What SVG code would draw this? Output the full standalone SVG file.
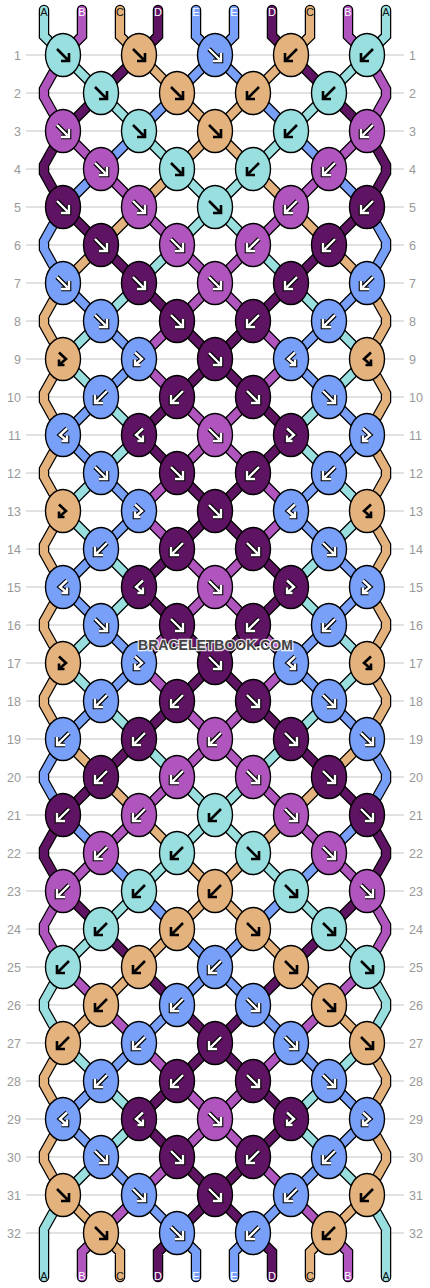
<svg xmlns="http://www.w3.org/2000/svg" xmlns:xlink="http://www.w3.org/1999/xlink" width="430" height="1288" viewBox="0 0 430 1288">
<style>
text{font-family:"Liberation Sans",Arial,sans-serif}
.num{font-size:12.5px;fill:#999}
.nl{text-anchor:end}
.lbl{font-size:11px;text-anchor:middle}
.lk{fill:#111}.lw{fill:#fff}
.rows{stroke:#c4c4c4;stroke-width:1;fill:none}
.ol{fill:none;stroke:#000;stroke-width:10.5;stroke-linejoin:miter;stroke-linecap:round}
.st{fill:none;stroke-width:8;stroke-linejoin:miter;stroke-linecap:round}
.cA{stroke:#99dfdf}.cB{stroke:#b055be}.cC{stroke:#e4b27d}.cD{stroke:#5e1462}.cE{stroke:#78a0f8}
ellipse{stroke:#000;stroke-width:1.4}
.A ellipse{fill:#99dfdf}.B ellipse{fill:#b055be}.C ellipse{fill:#e4b27d}.D ellipse{fill:#5e1462}.E ellipse{fill:#78a0f8}
.ak{fill:none;stroke:#000;stroke-width:2.6}
.ao{fill:none;stroke:#000;stroke-width:4.6}
.aw{fill:none;stroke:#fff;stroke-width:2.4}
.wm{font-size:14px;font-weight:bold;fill:#444;stroke:#fff;stroke-width:2.5;stroke-opacity:.85;paint-order:stroke;text-anchor:middle}
</style>
<defs>
<path id="pF" d="M-6-6L4.5 4.5M6-2V6H-2"/>
<path id="pB" d="M6-6L-4.5 4.5M-6-2V6H2"/>
<path id="pFB" d="M-4-6.5L3 0L-3 5M-4 0.5V6H1.5"/>
<path id="pBF" d="M4-6.5L-3 0L3 5M4 0.5V6H-1.5"/>
<g id="wF"><use href="#pF" class="ao"/><use href="#pF" class="aw"/></g>
<g id="wB"><use href="#pB" class="ao"/><use href="#pB" class="aw"/></g>
<g id="wFB"><use href="#pFB" class="ao"/><use href="#pFB" class="aw"/></g>
<g id="wBF"><use href="#pBF" class="ao"/><use href="#pBF" class="aw"/></g>
<path id="sA" d="M44 10V36L63 55M386 10V36L367 55M63 55l38 38M367 55l-38 38M101 93l38 38M329 93l-38 38M139 131l38 38M291 131l-38 38M177 169l38 38M253 169l-38 38M215 207l-38 38M215 207l38 38M177 245l-38 38M253 245l38 38M139 283l-38 38M291 283l38 38M101 321l-38 38M329 321l38 38M63 359l38 38M367 359l-38 38M101 397l38 38M329 397l-38 38M139 435l-38 38M291 435l38 38M101 473l-38 38M329 473l38 38M63 511l38 38M367 511l-38 38M101 549l38 38M329 549l-38 38M139 587l-38 38M291 587l38 38M101 625l-38 38M329 625l38 38M63 663l38 38M367 663l-38 38M101 701l38 38M329 701l-38 38M139 739l38 38M291 739l-38 38M177 777l38 38M253 777l-38 38M215 815l-38 38M215 815l38 38M177 853l-38 38M253 853l38 38M139 891l-38 38M291 891l38 38M101 929l-38 38M329 929l38 38M63 967l-19 34v8l19 34M367 967l19 34v8l-19 34M63 1043l38 38M367 1043l-38 38M101 1081l38 38M329 1081l-38 38M139 1119l-38 38M291 1119l38 38M101 1157l-38 38M329 1157l38 38M63 1195L44 1229V1277M367 1195L386 1229V1277"/>
<path id="sB" d="M82 10V36L63 55M348 10V36L367 55M63 55l-19 34v8l19 34M367 55l19 34v8l-19 34M63 131l38 38M367 131l-38 38M101 169l38 38M329 169l-38 38M139 207l38 38M291 207l-38 38M177 245l38 38M253 245l-38 38M215 283l-38 38M215 283l38 38M177 321l-38 38M253 321l38 38M139 359l38 38M291 359l-38 38M177 397l38 38M253 397l-38 38M215 435l-38 38M215 435l38 38M177 473l-38 38M253 473l38 38M139 511l38 38M291 511l-38 38M177 549l38 38M253 549l-38 38M215 587l-38 38M215 587l38 38M177 625l-38 38M253 625l38 38M139 663l38 38M291 663l-38 38M177 701l38 38M253 701l-38 38M215 739l-38 38M215 739l38 38M177 777l-38 38M253 777l38 38M139 815l-38 38M291 815l38 38M101 853l-38 38M329 853l38 38M63 891l-19 34v8l19 34M367 891l19 34v8l-19 34M63 967l38 38M367 967l-38 38M101 1005l38 38M329 1005l-38 38M139 1043l38 38M291 1043l-38 38M177 1081l38 38M253 1081l-38 38M215 1119l-38 38M215 1119l38 38M177 1157l-38 38M253 1157l38 38M139 1195l-38 38M291 1195l38 38M101 1233L82 1252V1277M329 1233L348 1252V1277"/>
<path id="sC" d="M120 10V36L139 55M310 10V36L291 55M139 55l38 38M291 55l-38 38M177 93l38 38M253 93l-38 38M215 131l-38 38M215 131l38 38M177 169l-38 38M253 169l38 38M139 207l-38 38M291 207l38 38M101 245l-38 38M329 245l38 38M63 283l-19 34v8l19 34l-19 34v8l19 34l-19 34v8l19 34l-19 34v8l19 34l-19 34v8l19 34l-19 34v8l19 34M367 283l19 34v8l-19 34l19 34v8l-19 34l19 34v8l-19 34l19 34v8l-19 34l19 34v8l-19 34l19 34v8l-19 34M63 739l38 38M367 739l-38 38M101 777l38 38M329 777l-38 38M139 815l38 38M291 815l-38 38M177 853l38 38M253 853l-38 38M215 891l-38 38M215 891l38 38M177 929l-38 38M253 929l38 38M139 967l-38 38M291 967l38 38M101 1005l-38 38M329 1005l38 38M63 1043l-19 34v8l19 34l-19 34v8l19 34M367 1043l19 34v8l-19 34l19 34v8l-19 34M63 1195l38 38M367 1195l-38 38M101 1233L120 1252V1277M329 1233L310 1252V1277"/>
<path id="sD" d="M158 10V36L139 55M272 10V36L291 55M139 55l-38 38M291 55l38 38M101 93l-38 38M329 93l38 38M63 131l-19 34v8l19 34M367 131l19 34v8l-19 34M63 207l38 38M367 207l-38 38M101 245l38 38M329 245l-38 38M139 283l38 38M291 283l-38 38M177 321l38 38M253 321l-38 38M215 359l-38 38M215 359l38 38M177 397l-38 38M253 397l38 38M139 435l38 38M291 435l-38 38M177 473l38 38M253 473l-38 38M215 511l-38 38M215 511l38 38M177 549l-38 38M253 549l38 38M139 587l38 38M291 587l-38 38M177 625l38 38M253 625l-38 38M215 663l-38 38M215 663l38 38M177 701l-38 38M253 701l38 38M139 739l-38 38M291 739l38 38M101 777l-38 38M329 777l38 38M63 815l-19 34v8l19 34M367 815l19 34v8l-19 34M63 891l38 38M367 891l-38 38M101 929l38 38M329 929l-38 38M139 967l38 38M291 967l-38 38M177 1005l38 38M253 1005l-38 38M215 1043l-38 38M215 1043l38 38M177 1081l-38 38M253 1081l38 38M139 1119l38 38M291 1119l-38 38M177 1157l38 38M253 1157l-38 38M215 1195l-38 38M215 1195l38 38M177 1233L158 1252V1277M253 1233L272 1252V1277"/>
<path id="sE" d="M196 10V36L215 55M234 10V36L215 55M215 55l-38 38M215 55l38 38M177 93l-38 38M253 93l38 38M139 131l-38 38M291 131l38 38M101 169l-38 38M329 169l38 38M63 207l-19 34v8l19 34M367 207l19 34v8l-19 34M63 283l38 38M367 283l-38 38M101 321l38 38M329 321l-38 38M139 359l-38 38M291 359l38 38M101 397l-38 38M329 397l38 38M63 435l38 38M367 435l-38 38M101 473l38 38M329 473l-38 38M139 511l-38 38M291 511l38 38M101 549l-38 38M329 549l38 38M63 587l38 38M367 587l-38 38M101 625l38 38M329 625l-38 38M139 663l-38 38M291 663l38 38M101 701l-38 38M329 701l38 38M63 739l-19 34v8l19 34M367 739l19 34v8l-19 34M63 815l38 38M367 815l-38 38M101 853l38 38M329 853l-38 38M139 891l38 38M291 891l-38 38M177 929l38 38M253 929l-38 38M215 967l-38 38M215 967l38 38M177 1005l-38 38M253 1005l38 38M139 1043l-38 38M291 1043l38 38M101 1081l-38 38M329 1081l38 38M63 1119l38 38M367 1119l-38 38M101 1157l38 38M329 1157l-38 38M139 1195l38 38M291 1195l-38 38M177 1233L196 1252V1277M253 1233L234 1252V1277"/>
</defs>
<rect width="430" height="1288" fill="#fff"/>
<path class="rows" d="M26 55H404M26 93H404M26 131H404M26 169H404M26 207H404M26 245H404M26 283H404M26 321H404M26 359H404M26 397H404M26 435H404M26 473H404M26 511H404M26 549H404M26 587H404M26 625H404M26 663H404M26 701H404M26 739H404M26 777H404M26 815H404M26 853H404M26 891H404M26 929H404M26 967H404M26 1005H404M26 1043H404M26 1081H404M26 1119H404M26 1157H404M26 1195H404M26 1233H404"/>
<g id="rownums" class="num">
<text class="nl" x="21" y="59.5">1</text><text class="nl" x="21" y="97.5">2</text><text class="nl" x="21" y="135.5">3</text><text class="nl" x="21" y="173.5">4</text><text class="nl" x="21" y="211.5">5</text><text class="nl" x="21" y="249.5">6</text><text class="nl" x="21" y="287.5">7</text><text class="nl" x="21" y="325.5">8</text><text class="nl" x="21" y="363.5">9</text><text class="nl" x="21" y="401.5">10</text><text class="nl" x="21" y="439.5">11</text><text class="nl" x="21" y="477.5">12</text><text class="nl" x="21" y="515.5">13</text><text class="nl" x="21" y="553.5">14</text><text class="nl" x="21" y="591.5">15</text><text class="nl" x="21" y="629.5">16</text><text class="nl" x="21" y="667.5">17</text><text class="nl" x="21" y="705.5">18</text><text class="nl" x="21" y="743.5">19</text><text class="nl" x="21" y="781.5">20</text><text class="nl" x="21" y="819.5">21</text><text class="nl" x="21" y="857.5">22</text><text class="nl" x="21" y="895.5">23</text><text class="nl" x="21" y="933.5">24</text><text class="nl" x="21" y="971.5">25</text><text class="nl" x="21" y="1009.5">26</text><text class="nl" x="21" y="1047.5">27</text><text class="nl" x="21" y="1085.5">28</text><text class="nl" x="21" y="1123.5">29</text><text class="nl" x="21" y="1161.5">30</text><text class="nl" x="21" y="1199.5">31</text><text class="nl" x="21" y="1237.5">32</text>
<text x="409" y="59.5">1</text><text x="409" y="97.5">2</text><text x="409" y="135.5">3</text><text x="409" y="173.5">4</text><text x="409" y="211.5">5</text><text x="409" y="249.5">6</text><text x="409" y="287.5">7</text><text x="409" y="325.5">8</text><text x="409" y="363.5">9</text><text x="409" y="401.5">10</text><text x="409" y="439.5">11</text><text x="409" y="477.5">12</text><text x="409" y="515.5">13</text><text x="409" y="553.5">14</text><text x="409" y="591.5">15</text><text x="409" y="629.5">16</text><text x="409" y="667.5">17</text><text x="409" y="705.5">18</text><text x="409" y="743.5">19</text><text x="409" y="781.5">20</text><text x="409" y="819.5">21</text><text x="409" y="857.5">22</text><text x="409" y="895.5">23</text><text x="409" y="933.5">24</text><text x="409" y="971.5">25</text><text x="409" y="1009.5">26</text><text x="409" y="1047.5">27</text><text x="409" y="1085.5">28</text><text x="409" y="1123.5">29</text><text x="409" y="1161.5">30</text><text x="409" y="1199.5">31</text><text x="409" y="1237.5">32</text>
</g>
<g id="connectors">
<use href="#sA" class="ol"/><use href="#sB" class="ol"/><use href="#sC" class="ol"/><use href="#sD" class="ol"/><use href="#sE" class="ol"/>
<use href="#sA" class="st cA"/><use href="#sB" class="st cB"/><use href="#sC" class="st cC"/><use href="#sD" class="st cD"/><use href="#sE" class="st cE"/>
</g>
<g id="labels" class="lbl">
<text class="lk" x="44" y="16">A</text><text class="lw" x="82" y="16">B</text><text class="lk" x="120" y="16">C</text><text class="lw" x="158" y="16">D</text><text class="lw" x="196" y="16">E</text><text class="lw" x="234" y="16">E</text><text class="lw" x="272" y="16">D</text><text class="lk" x="310" y="16">C</text><text class="lw" x="348" y="16">B</text><text class="lk" x="386" y="16">A</text>
<text class="lk" x="44" y="1280">A</text><text class="lw" x="82" y="1280">B</text><text class="lk" x="120" y="1280">C</text><text class="lw" x="158" y="1280">D</text><text class="lw" x="196" y="1280">E</text><text class="lw" x="234" y="1280">E</text><text class="lw" x="272" y="1280">D</text><text class="lk" x="310" y="1280">C</text><text class="lw" x="348" y="1280">B</text><text class="lk" x="386" y="1280">A</text>
</g>
<g id="knots">
<g id="k1-1" class="A" transform="translate(63 55)"><ellipse rx="17.5" ry="21.5"/><use href="#pF" class="ak"/></g>
<g id="k1-2" class="C" transform="translate(139 55)"><ellipse rx="17.5" ry="21.5"/><use href="#pF" class="ak"/></g>
<g id="k1-3" class="E" transform="translate(215 55)"><ellipse rx="17.5" ry="21.5"/><use href="#wF"/></g>
<g id="k1-4" class="C" transform="translate(291 55)"><ellipse rx="17.5" ry="21.5"/><use href="#pB" class="ak"/></g>
<g id="k1-5" class="A" transform="translate(367 55)"><ellipse rx="17.5" ry="21.5"/><use href="#pB" class="ak"/></g>
<g id="k2-1" class="A" transform="translate(101 93)"><ellipse rx="17.5" ry="21.5"/><use href="#pF" class="ak"/></g>
<g id="k2-2" class="C" transform="translate(177 93)"><ellipse rx="17.5" ry="21.5"/><use href="#pF" class="ak"/></g>
<g id="k2-3" class="C" transform="translate(253 93)"><ellipse rx="17.5" ry="21.5"/><use href="#pB" class="ak"/></g>
<g id="k2-4" class="A" transform="translate(329 93)"><ellipse rx="17.5" ry="21.5"/><use href="#pB" class="ak"/></g>
<g id="k3-1" class="B" transform="translate(63 131)"><ellipse rx="17.5" ry="21.5"/><use href="#wF"/></g>
<g id="k3-2" class="A" transform="translate(139 131)"><ellipse rx="17.5" ry="21.5"/><use href="#pF" class="ak"/></g>
<g id="k3-3" class="C" transform="translate(215 131)"><ellipse rx="17.5" ry="21.5"/><use href="#pF" class="ak"/></g>
<g id="k3-4" class="A" transform="translate(291 131)"><ellipse rx="17.5" ry="21.5"/><use href="#pB" class="ak"/></g>
<g id="k3-5" class="B" transform="translate(367 131)"><ellipse rx="17.5" ry="21.5"/><use href="#wB"/></g>
<g id="k4-1" class="B" transform="translate(101 169)"><ellipse rx="17.5" ry="21.5"/><use href="#wF"/></g>
<g id="k4-2" class="A" transform="translate(177 169)"><ellipse rx="17.5" ry="21.5"/><use href="#pF" class="ak"/></g>
<g id="k4-3" class="A" transform="translate(253 169)"><ellipse rx="17.5" ry="21.5"/><use href="#pB" class="ak"/></g>
<g id="k4-4" class="B" transform="translate(329 169)"><ellipse rx="17.5" ry="21.5"/><use href="#wB"/></g>
<g id="k5-1" class="D" transform="translate(63 207)"><ellipse rx="17.5" ry="21.5"/><use href="#wF"/></g>
<g id="k5-2" class="B" transform="translate(139 207)"><ellipse rx="17.5" ry="21.5"/><use href="#wF"/></g>
<g id="k5-3" class="A" transform="translate(215 207)"><ellipse rx="17.5" ry="21.5"/><use href="#pF" class="ak"/></g>
<g id="k5-4" class="B" transform="translate(291 207)"><ellipse rx="17.5" ry="21.5"/><use href="#wB"/></g>
<g id="k5-5" class="D" transform="translate(367 207)"><ellipse rx="17.5" ry="21.5"/><use href="#wB"/></g>
<g id="k6-1" class="D" transform="translate(101 245)"><ellipse rx="17.5" ry="21.5"/><use href="#wF"/></g>
<g id="k6-2" class="B" transform="translate(177 245)"><ellipse rx="17.5" ry="21.5"/><use href="#wF"/></g>
<g id="k6-3" class="B" transform="translate(253 245)"><ellipse rx="17.5" ry="21.5"/><use href="#wB"/></g>
<g id="k6-4" class="D" transform="translate(329 245)"><ellipse rx="17.5" ry="21.5"/><use href="#wB"/></g>
<g id="k7-1" class="E" transform="translate(63 283)"><ellipse rx="17.5" ry="21.5"/><use href="#wF"/></g>
<g id="k7-2" class="D" transform="translate(139 283)"><ellipse rx="17.5" ry="21.5"/><use href="#wF"/></g>
<g id="k7-3" class="B" transform="translate(215 283)"><ellipse rx="17.5" ry="21.5"/><use href="#wF"/></g>
<g id="k7-4" class="D" transform="translate(291 283)"><ellipse rx="17.5" ry="21.5"/><use href="#wB"/></g>
<g id="k7-5" class="E" transform="translate(367 283)"><ellipse rx="17.5" ry="21.5"/><use href="#wB"/></g>
<g id="k8-1" class="E" transform="translate(101 321)"><ellipse rx="17.5" ry="21.5"/><use href="#wF"/></g>
<g id="k8-2" class="D" transform="translate(177 321)"><ellipse rx="17.5" ry="21.5"/><use href="#wF"/></g>
<g id="k8-3" class="D" transform="translate(253 321)"><ellipse rx="17.5" ry="21.5"/><use href="#wB"/></g>
<g id="k8-4" class="E" transform="translate(329 321)"><ellipse rx="17.5" ry="21.5"/><use href="#wB"/></g>
<g id="k9-1" class="C" transform="translate(63 359)"><ellipse rx="17.5" ry="21.5"/><use href="#pFB" class="ak"/></g>
<g id="k9-2" class="E" transform="translate(139 359)"><ellipse rx="17.5" ry="21.5"/><use href="#wFB"/></g>
<g id="k9-3" class="D" transform="translate(215 359)"><ellipse rx="17.5" ry="21.5"/><use href="#wF"/></g>
<g id="k9-4" class="E" transform="translate(291 359)"><ellipse rx="17.5" ry="21.5"/><use href="#wBF"/></g>
<g id="k9-5" class="C" transform="translate(367 359)"><ellipse rx="17.5" ry="21.5"/><use href="#pBF" class="ak"/></g>
<g id="k10-1" class="E" transform="translate(101 397)"><ellipse rx="17.5" ry="21.5"/><use href="#wB"/></g>
<g id="k10-2" class="D" transform="translate(177 397)"><ellipse rx="17.5" ry="21.5"/><use href="#wB"/></g>
<g id="k10-3" class="D" transform="translate(253 397)"><ellipse rx="17.5" ry="21.5"/><use href="#wF"/></g>
<g id="k10-4" class="E" transform="translate(329 397)"><ellipse rx="17.5" ry="21.5"/><use href="#wF"/></g>
<g id="k11-1" class="E" transform="translate(63 435)"><ellipse rx="17.5" ry="21.5"/><use href="#wBF"/></g>
<g id="k11-2" class="D" transform="translate(139 435)"><ellipse rx="17.5" ry="21.5"/><use href="#wBF"/></g>
<g id="k11-3" class="B" transform="translate(215 435)"><ellipse rx="17.5" ry="21.5"/><use href="#wF"/></g>
<g id="k11-4" class="D" transform="translate(291 435)"><ellipse rx="17.5" ry="21.5"/><use href="#wFB"/></g>
<g id="k11-5" class="E" transform="translate(367 435)"><ellipse rx="17.5" ry="21.5"/><use href="#wFB"/></g>
<g id="k12-1" class="E" transform="translate(101 473)"><ellipse rx="17.5" ry="21.5"/><use href="#wF"/></g>
<g id="k12-2" class="D" transform="translate(177 473)"><ellipse rx="17.5" ry="21.5"/><use href="#wF"/></g>
<g id="k12-3" class="D" transform="translate(253 473)"><ellipse rx="17.5" ry="21.5"/><use href="#wB"/></g>
<g id="k12-4" class="E" transform="translate(329 473)"><ellipse rx="17.5" ry="21.5"/><use href="#wB"/></g>
<g id="k13-1" class="C" transform="translate(63 511)"><ellipse rx="17.5" ry="21.5"/><use href="#pFB" class="ak"/></g>
<g id="k13-2" class="E" transform="translate(139 511)"><ellipse rx="17.5" ry="21.5"/><use href="#wFB"/></g>
<g id="k13-3" class="D" transform="translate(215 511)"><ellipse rx="17.5" ry="21.5"/><use href="#wF"/></g>
<g id="k13-4" class="E" transform="translate(291 511)"><ellipse rx="17.5" ry="21.5"/><use href="#wBF"/></g>
<g id="k13-5" class="C" transform="translate(367 511)"><ellipse rx="17.5" ry="21.5"/><use href="#pBF" class="ak"/></g>
<g id="k14-1" class="E" transform="translate(101 549)"><ellipse rx="17.5" ry="21.5"/><use href="#wB"/></g>
<g id="k14-2" class="D" transform="translate(177 549)"><ellipse rx="17.5" ry="21.5"/><use href="#wB"/></g>
<g id="k14-3" class="D" transform="translate(253 549)"><ellipse rx="17.5" ry="21.5"/><use href="#wF"/></g>
<g id="k14-4" class="E" transform="translate(329 549)"><ellipse rx="17.5" ry="21.5"/><use href="#wF"/></g>
<g id="k15-1" class="E" transform="translate(63 587)"><ellipse rx="17.5" ry="21.5"/><use href="#wBF"/></g>
<g id="k15-2" class="D" transform="translate(139 587)"><ellipse rx="17.5" ry="21.5"/><use href="#wBF"/></g>
<g id="k15-3" class="B" transform="translate(215 587)"><ellipse rx="17.5" ry="21.5"/><use href="#wF"/></g>
<g id="k15-4" class="D" transform="translate(291 587)"><ellipse rx="17.5" ry="21.5"/><use href="#wFB"/></g>
<g id="k15-5" class="E" transform="translate(367 587)"><ellipse rx="17.5" ry="21.5"/><use href="#wFB"/></g>
<g id="k16-1" class="E" transform="translate(101 625)"><ellipse rx="17.5" ry="21.5"/><use href="#wF"/></g>
<g id="k16-2" class="D" transform="translate(177 625)"><ellipse rx="17.5" ry="21.5"/><use href="#wF"/></g>
<g id="k16-3" class="D" transform="translate(253 625)"><ellipse rx="17.5" ry="21.5"/><use href="#wB"/></g>
<g id="k16-4" class="E" transform="translate(329 625)"><ellipse rx="17.5" ry="21.5"/><use href="#wB"/></g>
<g id="k17-1" class="C" transform="translate(63 663)"><ellipse rx="17.5" ry="21.5"/><use href="#pFB" class="ak"/></g>
<g id="k17-2" class="E" transform="translate(139 663)"><ellipse rx="17.5" ry="21.5"/><use href="#wFB"/></g>
<g id="k17-3" class="D" transform="translate(215 663)"><ellipse rx="17.5" ry="21.5"/><use href="#wF"/></g>
<g id="k17-4" class="E" transform="translate(291 663)"><ellipse rx="17.5" ry="21.5"/><use href="#wBF"/></g>
<g id="k17-5" class="C" transform="translate(367 663)"><ellipse rx="17.5" ry="21.5"/><use href="#pBF" class="ak"/></g>
<g id="k18-1" class="E" transform="translate(101 701)"><ellipse rx="17.5" ry="21.5"/><use href="#wB"/></g>
<g id="k18-2" class="D" transform="translate(177 701)"><ellipse rx="17.5" ry="21.5"/><use href="#wB"/></g>
<g id="k18-3" class="D" transform="translate(253 701)"><ellipse rx="17.5" ry="21.5"/><use href="#wF"/></g>
<g id="k18-4" class="E" transform="translate(329 701)"><ellipse rx="17.5" ry="21.5"/><use href="#wF"/></g>
<g id="k19-1" class="E" transform="translate(63 739)"><ellipse rx="17.5" ry="21.5"/><use href="#wB"/></g>
<g id="k19-2" class="D" transform="translate(139 739)"><ellipse rx="17.5" ry="21.5"/><use href="#wB"/></g>
<g id="k19-3" class="B" transform="translate(215 739)"><ellipse rx="17.5" ry="21.5"/><use href="#wB"/></g>
<g id="k19-4" class="D" transform="translate(291 739)"><ellipse rx="17.5" ry="21.5"/><use href="#wF"/></g>
<g id="k19-5" class="E" transform="translate(367 739)"><ellipse rx="17.5" ry="21.5"/><use href="#wF"/></g>
<g id="k20-1" class="D" transform="translate(101 777)"><ellipse rx="17.5" ry="21.5"/><use href="#wB"/></g>
<g id="k20-2" class="B" transform="translate(177 777)"><ellipse rx="17.5" ry="21.5"/><use href="#wB"/></g>
<g id="k20-3" class="B" transform="translate(253 777)"><ellipse rx="17.5" ry="21.5"/><use href="#wF"/></g>
<g id="k20-4" class="D" transform="translate(329 777)"><ellipse rx="17.5" ry="21.5"/><use href="#wF"/></g>
<g id="k21-1" class="D" transform="translate(63 815)"><ellipse rx="17.5" ry="21.5"/><use href="#wB"/></g>
<g id="k21-2" class="B" transform="translate(139 815)"><ellipse rx="17.5" ry="21.5"/><use href="#wB"/></g>
<g id="k21-3" class="A" transform="translate(215 815)"><ellipse rx="17.5" ry="21.5"/><use href="#pB" class="ak"/></g>
<g id="k21-4" class="B" transform="translate(291 815)"><ellipse rx="17.5" ry="21.5"/><use href="#wF"/></g>
<g id="k21-5" class="D" transform="translate(367 815)"><ellipse rx="17.5" ry="21.5"/><use href="#wF"/></g>
<g id="k22-1" class="B" transform="translate(101 853)"><ellipse rx="17.5" ry="21.5"/><use href="#wB"/></g>
<g id="k22-2" class="A" transform="translate(177 853)"><ellipse rx="17.5" ry="21.5"/><use href="#pB" class="ak"/></g>
<g id="k22-3" class="A" transform="translate(253 853)"><ellipse rx="17.5" ry="21.5"/><use href="#pF" class="ak"/></g>
<g id="k22-4" class="B" transform="translate(329 853)"><ellipse rx="17.5" ry="21.5"/><use href="#wF"/></g>
<g id="k23-1" class="B" transform="translate(63 891)"><ellipse rx="17.5" ry="21.5"/><use href="#wB"/></g>
<g id="k23-2" class="A" transform="translate(139 891)"><ellipse rx="17.5" ry="21.5"/><use href="#pB" class="ak"/></g>
<g id="k23-3" class="C" transform="translate(215 891)"><ellipse rx="17.5" ry="21.5"/><use href="#pB" class="ak"/></g>
<g id="k23-4" class="A" transform="translate(291 891)"><ellipse rx="17.5" ry="21.5"/><use href="#pF" class="ak"/></g>
<g id="k23-5" class="B" transform="translate(367 891)"><ellipse rx="17.5" ry="21.5"/><use href="#wF"/></g>
<g id="k24-1" class="A" transform="translate(101 929)"><ellipse rx="17.5" ry="21.5"/><use href="#pB" class="ak"/></g>
<g id="k24-2" class="C" transform="translate(177 929)"><ellipse rx="17.5" ry="21.5"/><use href="#pB" class="ak"/></g>
<g id="k24-3" class="C" transform="translate(253 929)"><ellipse rx="17.5" ry="21.5"/><use href="#pF" class="ak"/></g>
<g id="k24-4" class="A" transform="translate(329 929)"><ellipse rx="17.5" ry="21.5"/><use href="#pF" class="ak"/></g>
<g id="k25-1" class="A" transform="translate(63 967)"><ellipse rx="17.5" ry="21.5"/><use href="#pB" class="ak"/></g>
<g id="k25-2" class="C" transform="translate(139 967)"><ellipse rx="17.5" ry="21.5"/><use href="#pB" class="ak"/></g>
<g id="k25-3" class="E" transform="translate(215 967)"><ellipse rx="17.5" ry="21.5"/><use href="#wB"/></g>
<g id="k25-4" class="C" transform="translate(291 967)"><ellipse rx="17.5" ry="21.5"/><use href="#pF" class="ak"/></g>
<g id="k25-5" class="A" transform="translate(367 967)"><ellipse rx="17.5" ry="21.5"/><use href="#pF" class="ak"/></g>
<g id="k26-1" class="C" transform="translate(101 1005)"><ellipse rx="17.5" ry="21.5"/><use href="#pB" class="ak"/></g>
<g id="k26-2" class="E" transform="translate(177 1005)"><ellipse rx="17.5" ry="21.5"/><use href="#wB"/></g>
<g id="k26-3" class="E" transform="translate(253 1005)"><ellipse rx="17.5" ry="21.5"/><use href="#wF"/></g>
<g id="k26-4" class="C" transform="translate(329 1005)"><ellipse rx="17.5" ry="21.5"/><use href="#pF" class="ak"/></g>
<g id="k27-1" class="C" transform="translate(63 1043)"><ellipse rx="17.5" ry="21.5"/><use href="#pB" class="ak"/></g>
<g id="k27-2" class="E" transform="translate(139 1043)"><ellipse rx="17.5" ry="21.5"/><use href="#wB"/></g>
<g id="k27-3" class="D" transform="translate(215 1043)"><ellipse rx="17.5" ry="21.5"/><use href="#wB"/></g>
<g id="k27-4" class="E" transform="translate(291 1043)"><ellipse rx="17.5" ry="21.5"/><use href="#wF"/></g>
<g id="k27-5" class="C" transform="translate(367 1043)"><ellipse rx="17.5" ry="21.5"/><use href="#pF" class="ak"/></g>
<g id="k28-1" class="E" transform="translate(101 1081)"><ellipse rx="17.5" ry="21.5"/><use href="#wB"/></g>
<g id="k28-2" class="D" transform="translate(177 1081)"><ellipse rx="17.5" ry="21.5"/><use href="#wB"/></g>
<g id="k28-3" class="D" transform="translate(253 1081)"><ellipse rx="17.5" ry="21.5"/><use href="#wF"/></g>
<g id="k28-4" class="E" transform="translate(329 1081)"><ellipse rx="17.5" ry="21.5"/><use href="#wF"/></g>
<g id="k29-1" class="E" transform="translate(63 1119)"><ellipse rx="17.5" ry="21.5"/><use href="#wBF"/></g>
<g id="k29-2" class="D" transform="translate(139 1119)"><ellipse rx="17.5" ry="21.5"/><use href="#wBF"/></g>
<g id="k29-3" class="B" transform="translate(215 1119)"><ellipse rx="17.5" ry="21.5"/><use href="#wF"/></g>
<g id="k29-4" class="D" transform="translate(291 1119)"><ellipse rx="17.5" ry="21.5"/><use href="#wFB"/></g>
<g id="k29-5" class="E" transform="translate(367 1119)"><ellipse rx="17.5" ry="21.5"/><use href="#wFB"/></g>
<g id="k30-1" class="E" transform="translate(101 1157)"><ellipse rx="17.5" ry="21.5"/><use href="#wF"/></g>
<g id="k30-2" class="D" transform="translate(177 1157)"><ellipse rx="17.5" ry="21.5"/><use href="#wF"/></g>
<g id="k30-3" class="D" transform="translate(253 1157)"><ellipse rx="17.5" ry="21.5"/><use href="#wB"/></g>
<g id="k30-4" class="E" transform="translate(329 1157)"><ellipse rx="17.5" ry="21.5"/><use href="#wB"/></g>
<g id="k31-1" class="C" transform="translate(63 1195)"><ellipse rx="17.5" ry="21.5"/><use href="#pF" class="ak"/></g>
<g id="k31-2" class="E" transform="translate(139 1195)"><ellipse rx="17.5" ry="21.5"/><use href="#wF"/></g>
<g id="k31-3" class="D" transform="translate(215 1195)"><ellipse rx="17.5" ry="21.5"/><use href="#wF"/></g>
<g id="k31-4" class="E" transform="translate(291 1195)"><ellipse rx="17.5" ry="21.5"/><use href="#wB"/></g>
<g id="k31-5" class="C" transform="translate(367 1195)"><ellipse rx="17.5" ry="21.5"/><use href="#pB" class="ak"/></g>
<g id="k32-1" class="C" transform="translate(101 1233)"><ellipse rx="17.5" ry="21.5"/><use href="#pF" class="ak"/></g>
<g id="k32-2" class="E" transform="translate(177 1233)"><ellipse rx="17.5" ry="21.5"/><use href="#wF"/></g>
<g id="k32-3" class="E" transform="translate(253 1233)"><ellipse rx="17.5" ry="21.5"/><use href="#wB"/></g>
<g id="k32-4" class="C" transform="translate(329 1233)"><ellipse rx="17.5" ry="21.5"/><use href="#pB" class="ak"/></g>
</g>
<text id="watermark" class="wm" x="215.5" y="650">BRACELETBOOK.COM</text>
</svg>
